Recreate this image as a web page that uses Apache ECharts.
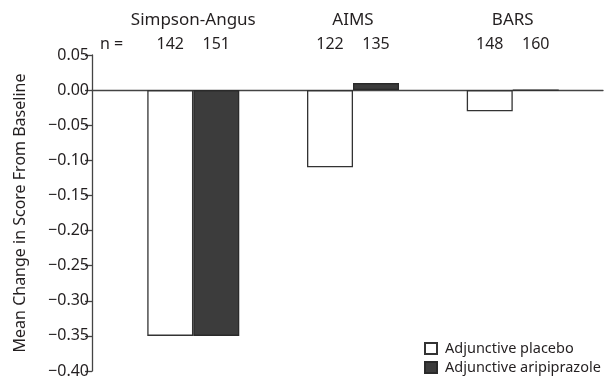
<!DOCTYPE html>
<html>
<head>
<meta charset="utf-8">
<script src="https://cdn.jsdelivr.net/npm/echarts@6/dist/echarts.min.js"></script>
<style>
  html, body { margin: 0; padding: 0; background: #fff; }
  #chart { width: 605px; height: 379px; }
</style>
</head>
<body>
<div id="chart"></div>
<script>
// Rating scales (one group of bars each) and their positions on the x axis
const scales = ['Simpson-Angus', 'AIMS', 'BARS'];
const scalePos = [1, 2, 3];

// Mean change in score from baseline
const placebo = [-0.35, -0.11, -0.03];
const aripiprazole = [-0.35, 0.01, 0.00];

// Number of patients per bar
const nPlacebo = [142, 122, 148];
const nAripiprazole = [151, 135, 160];
const nPrefix = 'n =';

const seriesNames = ['Adjunctive placebo', 'Adjunctive aripiprazole'];
const yTitle = 'Mean Change in Score From Baseline';

const FONT = '"Noto Sans", sans-serif';
const INK = '#231f20';

function fmtY(v) {
  if (Math.abs(v) < 1e-9) return '0.00';
  const s = Math.abs(v).toFixed(2);
  return v < 0 ? '\u2212' + s : s;
}

const chart = echarts.init(document.getElementById('chart'), null, { renderer: 'canvas' });

const X_MIN = 0.366, X_MAX = 3.565;

chart.setOption({
  animation: false,
  backgroundColor: '#fff',
  textStyle: { fontFamily: FONT, color: INK },
  grid: { left: 92, right: 2, top: 55, bottom: 6, containLabel: false },
  xAxis: [
    {
      type: 'value', min: X_MIN, max: X_MAX,
      axisLine: { show: true, onZero: true, lineStyle: { color: '#444', width: 1.3 } },
      axisTick: { show: false },
      axisLabel: { show: false },
      splitLine: { show: false }
    },
    {
      type: 'value', min: X_MIN, max: X_MAX, position: 'top',
      axisLine: { show: false, onZero: false },
      axisTick: { show: false },
      splitLine: { show: false },
      axisLabel: {
        show: true,
        customValues: scalePos,
        margin: 2,
        formatter: function (v) {
          const i = scalePos.indexOf(Math.round(v));
          if (i < 0) return '';
          return '{t|' + scales[i] + '}\n{n|' + nPlacebo[i] + '}{n|' + nAripiprazole[i] + '}';
        },
        rich: {
          t: { fontFamily: FONT, fontSize: 17, color: INK, lineHeight: 30, align: 'center' },
          n: { fontFamily: FONT, fontSize: 16, color: INK, lineHeight: 18, width: 46, align: 'center' }
        }
      }
    }
  ],
  yAxis: {
    type: 'value', min: -0.4, max: 0.05, interval: 0.05,
    name: yTitle,
    nameLocation: 'middle',
    nameGap: 64,
    nameTextStyle: { fontFamily: FONT, fontSize: 16, color: INK },
    axisLine: { show: true, lineStyle: { color: '#444', width: 1.3 } },
    axisTick: { show: true, length: 7, lineStyle: { color: '#444', width: 1.3 } },
    axisLabel: { fontFamily: FONT, fontSize: 16, color: INK, margin: 3, formatter: fmtY },
    splitLine: { show: false }
  },
  legend: {
    orient: 'vertical',
    left: 424, top: 341, height: 38,
    padding: 0,
    itemWidth: 12, itemHeight: 11, itemGap: 4,
    icon: 'rect',
    textStyle: { fontFamily: FONT, fontSize: 14.5, lineHeight: 15, color: INK, padding: [0, 0, 0, 3] },
    data: seriesNames
  },
  graphic: [
    {
      type: 'text', left: 100, top: 36,
      style: { text: nPrefix, font: '16px ' + FONT, fill: INK }
    }
  ],
  series: [
    {
      name: seriesNames[0], type: 'bar',
      xAxisIndex: 0, yAxisIndex: 0,
      barWidth: 46, barGap: '0%',
      itemStyle: { color: '#ffffff', borderColor: '#333', borderWidth: 1.3 },
      data: scalePos.map((x, i) => [x, placebo[i]])
    },
    {
      name: seriesNames[1], type: 'bar',
      xAxisIndex: 0, yAxisIndex: 0,
      barWidth: 46, barGap: '0%',
      itemStyle: { color: '#3c3c3c', borderColor: '#2a2a2a', borderWidth: 1.3 },
      data: scalePos.map((x, i) => [x, aripiprazole[i]])
    }
  ]
});
</script>
</body>
</html>
